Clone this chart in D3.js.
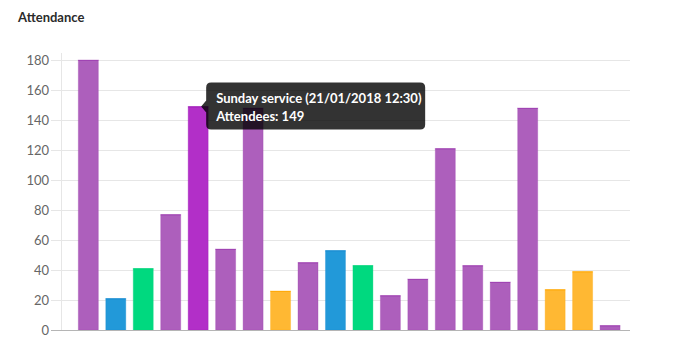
<!DOCTYPE html>
<html>
<head>
<meta charset="utf-8">
<script src="https://cdn.jsdelivr.net/npm/d3@7"></script>
<style>
  html, body { margin: 0; padding: 0; background: #fff; }
  svg { display: block; font-family: Lato, "Open Sans", sans-serif; }
</style>
</head>
<body>
<svg id="chart" width="676" height="346"></svg>
<script>
// Attendance per event, in chronological order
const events = d3.range(1, 21).map(i => "event" + i);
const attendees = [180, 21, 41, 77, 149, 54, 148, 26, 45, 53, 43, 23, 34, 121, 43, 32, 148, 27, 39, 3];
const eventTypes = ["service", "youth", "group", "service", "service", "service", "service", "outreach", "service", "youth",
                    "group", "service", "service", "service", "service", "service", "service", "outreach", "outreach", "service"];
const yTicks = [0, 20, 40, 60, 80, 100, 120, 140, 160, 180];

const typeFill = { service: "#ad5fbc", youth: "#2299d9", group: "#00d97f", outreach: "#ffb833" };
const typeEdge = { service: "#a044b3", youth: "#1a8cd2", group: "#00d47a", outreach: "#ffaa0a" };
const hoverIndex = 4;
const tooltipLines = ["Sunday service (21/01/2018 12:30)", "Attendees: " + attendees[hoverIndex]];

const svg = d3.select("#chart");

svg.append("text")
  .attr("x", 18).attr("y", 22)
  .attr("font-size", 13).attr("font-weight", 700).attr("fill", "#2b2b2b")
  .text("Attendance");

const y = d3.scaleLinear().domain([0, 180]).range([330, 60]);
const x = d3.scaleBand().domain(events).range([74.6, 623.8]).paddingInner(0.272).paddingOuter(0.136);

// grid lines + tick marks
const grid = svg.append("g");
grid.selectAll("line").data(yTicks.filter(t => t > 0)).join("line")
  .attr("x1", 51).attr("x2", 630)
  .attr("y1", d => Math.round(y(d)) + 0.5).attr("y2", d => Math.round(y(d)) + 0.5)
  .attr("stroke", "#e6e6e6").attr("stroke-width", 1);

// y axis line
svg.append("line")
  .attr("x1", 61.5).attr("x2", 61.5).attr("y1", 53).attr("y2", 330)
  .attr("stroke", "#e6e6e6");

// y axis labels
const yAxis = d3.axisLeft(y).tickValues(yTicks).tickSize(0).tickPadding(12);
const ga = svg.append("g").attr("transform", "translate(61,0)").call(yAxis);
ga.select(".domain").remove();
ga.selectAll("text").attr("font-family", "Lato, sans-serif").attr("font-size", 13).attr("fill", "#666");

// bars
const bars = svg.append("g");
bars.selectAll("rect").data(attendees).join("rect")
  .attr("x", (d, i) => x(events[i]))
  .attr("width", x.bandwidth())
  .attr("y", d => y(d))
  .attr("height", d => y(0) - y(d))
  .attr("fill", (d, i) => i === hoverIndex ? "#b22fc8" : typeFill[eventTypes[i]])
  .attr("stroke", (d, i) => i === hoverIndex ? "#a020b8" : typeEdge[eventTypes[i]])
  .attr("stroke-opacity", 0.35)
  .attr("stroke-width", 1);
bars.selectAll("line").data(attendees).join("line")
  .attr("x1", (d, i) => x(events[i]))
  .attr("x2", (d, i) => x(events[i]) + x.bandwidth())
  .attr("y1", d => y(d) + 0.5).attr("y2", d => y(d) + 0.5)
  .attr("stroke", (d, i) => i === hoverIndex ? "#a020b8" : typeEdge[eventTypes[i]])
  .attr("stroke-width", 1);

// baseline
svg.append("line")
  .attr("x1", 51).attr("x2", 630).attr("y1", 330.5).attr("y2", 330.5)
  .attr("stroke", "#b5b5b5");

// tooltip on hovered bar
const tipX = x(events[hoverIndex]) + x.bandwidth() / 2 + 3;
const tipY = y(attendees[hoverIndex]);
const boxL = tipX + 5, boxT = 82.5, boxW = 219, boxH = 47;
const tip = svg.append("g");
const r = 5;
const p = d3.path();
p.moveTo(boxL + r, boxT);
p.lineTo(boxL + boxW - r, boxT);
p.quadraticCurveTo(boxL + boxW, boxT, boxL + boxW, boxT + r);
p.lineTo(boxL + boxW, boxT + boxH - r);
p.quadraticCurveTo(boxL + boxW, boxT + boxH, boxL + boxW - r, boxT + boxH);
p.lineTo(boxL + r, boxT + boxH);
p.quadraticCurveTo(boxL, boxT + boxH, boxL, boxT + boxH - r);
p.lineTo(boxL, tipY + 6);
p.lineTo(tipX, tipY);
p.lineTo(boxL, tipY - 6);
p.lineTo(boxL, boxT + r);
p.quadraticCurveTo(boxL, boxT, boxL + r, boxT);
p.closePath();
tip.append("path").attr("d", p.toString()).attr("fill", "rgba(0,0,0,0.8)");
tip.selectAll("text").data(tooltipLines).join("text")
  .attr("x", boxL + 10)
  .attr("y", (d, i) => boxT + 20 + i * 18)
  .attr("font-size", 13).attr("font-weight", 700).attr("fill", "#fff")
  .text(d => d);
</script>
</body>
</html>
